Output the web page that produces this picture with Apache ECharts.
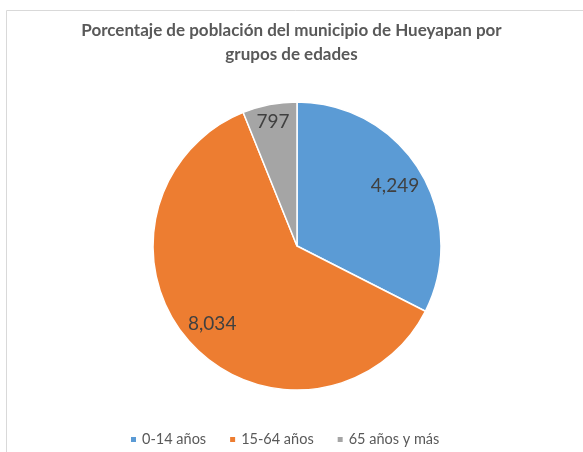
<!DOCTYPE html>
<html>
<head>
<meta charset="utf-8">
<script src="https://cdn.jsdelivr.net/npm/echarts@6/dist/echarts.min.js"></script>
<style>
html,body{margin:0;padding:0;background:#fff;}
#main{width:583px;height:452px;}
</style>
</head>
<body>
<div id="main"></div>
<script>
var categories = ['0-14 años', '15-64 años', '65 años y más'];
var values = [4249, 8034, 797];
var colors = ['#5B9BD5', '#ED7D31', '#A5A5A5'];
var titleText = 'Porcentaje de población del municipio de Hueyapan por\ngrupos de edades';

var chart = echarts.init(document.getElementById('main'));
var center = [297, 246];
var R = 144;

function fmt(v){ return v.toLocaleString('en-US'); }

var mainData = categories.map(function(c, i){
  return { name: c, value: values[i], itemStyle: { color: colors[i] } };
});

function overlayData(showIdx){
  return categories.map(function(c, i){
    return {
      name: c, value: values[i],
      itemStyle: { color: 'rgba(0,0,0,0)', borderWidth: 0 },
      label: { show: showIdx.indexOf(i) >= 0 }
    };
  });
}

var labelStyle = {
  position: 'inside',
  formatter: function(p){ return fmt(p.value); },
  color: '#404040',
  fontSize: 19,
  fontFamily: 'Lato',
  textBorderWidth: 0
};

chart.setOption({
  animation: false,
  graphic: [{
    type: 'rect',
    shape: { x: 6.5, y: 10.5, width: 620, height: 500 },
    style: { fill: 'none', stroke: '#d9d9d9', lineWidth: 1 },
    silent: true
  }],
  title: {
    text: titleText,
    left: 'center',
    top: 14,
    textStyle: {
      fontFamily: 'Lato',
      fontWeight: 'bold',
      fontSize: 17,
      color: '#595959',
      lineHeight: 24,
      align: 'center'
    }
  },
  legend: {
    bottom: 0,
    left: 124,
    icon: 'rect',
    itemWidth: 7,
    itemHeight: 7,
    itemGap: 22,
    textStyle: { fontFamily: 'Lato', fontSize: 14.5, color: '#595959' },
    data: categories
  },
  series: [
    {
      type: 'pie',
      center: center,
      radius: [0, R],
      startAngle: 90,
      clockwise: true,
      label: { show: false },
      labelLine: { show: false },
      itemStyle: { borderColor: '#fff', borderWidth: 1.5 },
      emphasis: { disabled: true },
      data: mainData
    },
    {
      type: 'pie',
      center: center,
      radius: [80, R],
      startAngle: 90,
      clockwise: true,
      silent: true,
      legendHoverLink: false,
      label: labelStyle,
      labelLine: { show: false },
      emphasis: { disabled: true },
      data: overlayData([0, 1])
    },
    {
      type: 'pie',
      center: center,
      radius: [102, R],
      startAngle: 90,
      clockwise: true,
      silent: true,
      legendHoverLink: false,
      label: labelStyle,
      labelLine: { show: false },
      emphasis: { disabled: true },
      data: overlayData([2])
    }
  ]
});
</script>
</body>
</html>
